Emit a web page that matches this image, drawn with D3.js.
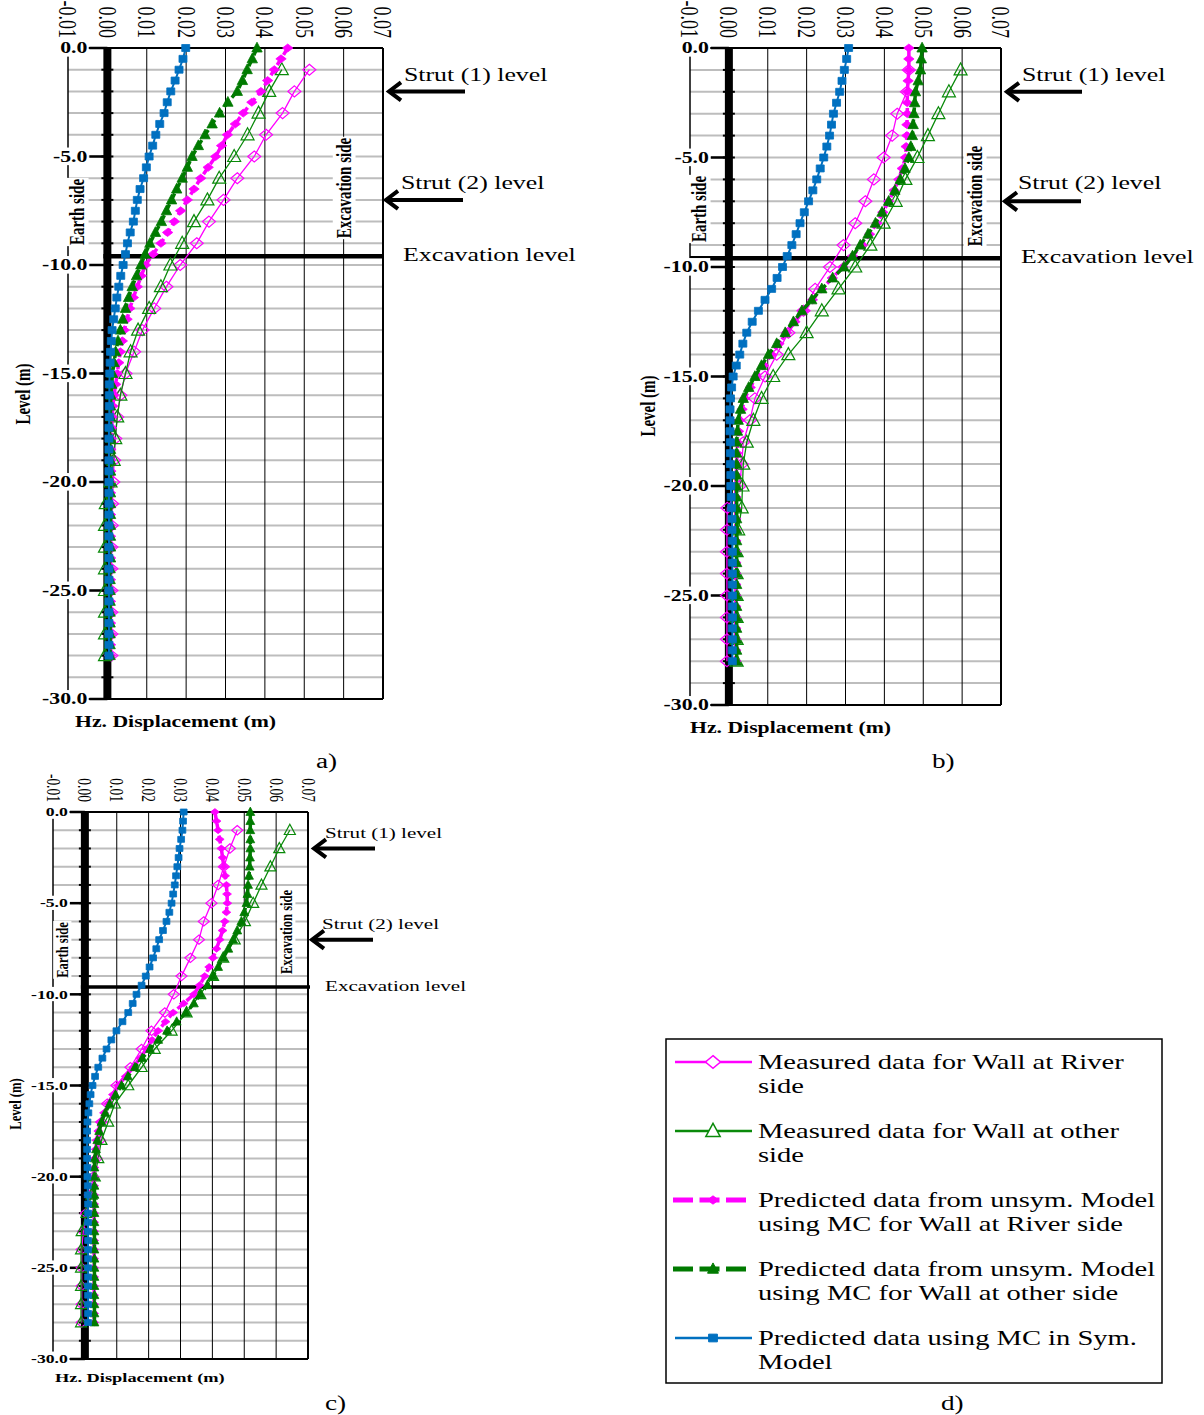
<!DOCTYPE html>
<html>
<head>
<meta charset="utf-8">
<script src="https://cdn.jsdelivr.net/npm/d3@7"></script>
<style>
body { margin: 0; background: #fff; }
svg { display: block; }
</style>
</head>
<body>
<svg id="fig" width="1204" height="1415"></svg>
<script>
// the source figure is stretched sideways, so every text gets this x scale
var SX = 1.36;
var FONT = '"Liberation Serif", "Times New Roman", serif';

var xTicks = [-0.01, 0, 0.01, 0.02, 0.03, 0.04, 0.05, 0.06, 0.07];
var xTickLabels = ["-0.01", "0.00", "0.01", "0.02", "0.03", "0.04", "0.05", "0.06", "0.07"];
var yTicks = [0, -5, -10, -15, -20, -25, -30];
var yTickLabels = ["0.0", "-5.0", "-10.0", "-15.0", "-20.0", "-25.0", "-30.0"];
var strutLevels = [-2, -7];
var excavationLevel = -9.6;

// levels (m) of the predicted series
var predDepth = [0, -0.5, -1, -1.5, -2, -2.5, -3, -3.5,
  -4, -4.5, -5, -5.5, -6, -6.5, -7, -7.5,
  -8, -8.5, -9, -9.5, -10, -10.5, -11, -11.5,
  -12, -12.5, -13, -13.5, -14, -14.5, -15, -15.5,
  -16, -16.5, -17, -17.5, -18, -18.5, -19, -19.5,
  -20, -20.5, -21, -21.5, -22, -22.5, -23, -23.5,
  -24, -24.5, -25, -25.5, -26, -26.5, -27, -27.5,
  -28];
// levels (m) of the measured series
var measDepth = [-1, -2, -3, -4, -5, -6, -7,
  -8, -9, -10, -11, -12, -13, -14,
  -15, -16, -17, -18, -19, -20, -21,
  -22, -23, -24, -25, -26, -27, -28];

// ---- panel a ----
var aMeasRiver = [.0513, .0475, .0445, .0403, .0373, .0330, .0295,
  .0258, .0227, .0185, .0150, .0119, .0089, .0068,
  .0046, .0033, .0025, .0020, .0017, .0015, .0012,
  .0011, .0010, .0010, .0010, .0010, .0010, .0010];
var aMeasOther = [.0443, .0411, .0384, .0356, .0322, .0284, .0254,
  .0220, .0190, .0160, .0136, .0106, .0078, .0059,
  .0046, .0033, .0025, .0020, .0016, .0008, -.0004,
  -.0006, -.0006, -.0006, -.0006, -.0006, -.0006, -.0006];
var aPredRiver = [.0458, .0441, .0424, .0407, .0390, .0367, .0345, .0325,
  .0305, .0290, .0275, .0256, .0237, .0220, .0203, .0186,
  .0170, .0153, .0136, .0116, .0097, .0086, .0076, .0066,
  .0057, .0050, .0043, .0038, .0033, .0029, .0025, .0021,
  .0017, .0014, .0012, .0011, .0010, .0009, .0009, .0009,
  .0008, .0008, .0008, .0008, .0008, .0008, .0008, .0008,
  .0008, .0008, .0008, .0008, .0008, .0008, .0008, .0008,
  .0008];
var aPredOther = [.0380, .0368, .0355, .0343, .0330, .0306, .0285, .0266,
  .0248, .0231, .0215, .0203, .0190, .0176, .0163, .0150,
  .0137, .0122, .0108, .0096, .0085, .0074, .0063, .0054,
  .0046, .0039, .0033, .0027, .0021, .0017, .0013, .0011,
  .0009, .0008, .0008, .0008, .0008, .0008, .0008, .0008,
  .0008, .0008, .0008, .0008, .0008, .0008, .0008, .0008,
  .0007, .0007, .0007, .0007, .0007, .0007, .0007, .0007,
  .0007];
var aPredSym = [.0199, .0192, .0182, .0172, .0161, .0152, .0144, .0133,
  .0123, .0115, .0106, .0099, .0092, .0083, .0076, .0071,
  .0066, .0058, .0051, .0046, .0040, .0034, .0029, .0024,
  .0020, .0016, .0012, .0010, .0008, .0007, .0006, .0005,
  .0005, .0005, .0005, .0004, .0004, .0004, .0004, .0004,
  .0004, .0004, .0004, .0004, .0004, .0004, .0004, .0004,
  .0004, .0004, .0004, .0004, .0004, .0004, .0004, .0004,
  .0004];

// ---- panel b ----
var bMeasRiver = [.0463, .0458, .0433, .0420, .0398, .0373, .0351,
  .0325, .0295, .0260, .0222, .0192, .0153, .0123,
  .0093, .0067, .0054, .0037, .0033, .0028, -.0004,
  -.0005, -.0005, -.0005, -.0005, -.0005, -.0005, -.0005];
var bMeasOther = [.0596, .0566, .0539, .0512, .0485, .0454, .0429,
  .0398, .0364, .0325, .0282, .0239, .0200, .0153,
  .0114, .0084, .0063, .0046, .0037, .0035, .0033,
  .0024, .0020, .0020, .0020, .0020, .0020, .0020];
var bPredRiver = [.0463, .0463, .0463, .0461, .0459, .0459, .0459, .0458,
  .0458, .0456, .0454, .0446, .0437, .0425, .0411, .0396,
  .0381, .0362, .0343, .0318, .0293, .0266, .0239, .0215,
  .0192, .0170, .0149, .0129, .0110, .0090, .0071, .0055,
  .0041, .0034, .0028, .0025, .0022, .0021, .0020, .0019,
  .0018, .0018, .0018, .0018, .0018, .0018, .0018, .0018,
  .0018, .0018, .0018, .0018, .0018, .0018, .0018, .0018,
  .0018];
var bPredOther = [.0497, .0495, .0493, .0487, .0480, .0478, .0476, .0474,
  .0472, .0468, .0463, .0453, .0441, .0427, .0411, .0394,
  .0377, .0358, .0338, .0318, .0296, .0267, .0239, .0213,
  .0188, .0166, .0145, .0123, .0102, .0084, .0067, .0051,
  .0037, .0030, .0024, .0022, .0020, .0020, .0020, .0020,
  .0020, .0020, .0020, .0020, .0020, .0020, .0020, .0020,
  .0020, .0020, .0020, .0020, .0020, .0020, .0020, .0020,
  .0020];
var bPredSym = [.0308, .0303, .0297, .0291, .0285, .0277, .0269, .0264,
  .0259, .0252, .0244, .0235, .0226, .0216, .0205, .0194,
  .0183, .0173, .0162, .0150, .0138, .0124, .0110, .0093,
  .0076, .0060, .0046, .0036, .0028, .0019, .0011, .0007,
  .0004, .0003, .0003, .0003, .0004, .0004, .0004, .0005,
  .0005, .0006, .0007, .0008, .0008, .0009, .0009, .0009,
  .0009, .0009, .0009, .0009, .0009, .0009, .0009, .0009,
  .0009];

// ---- panel c ----
var cMeasRiver = [.0478, .0455, .0436, .0418, .0397, .0373, .0358,
  .0331, .0303, .0279, .0251, .0209, .0178, .0143,
  .0099, .0070, .0052, .0047, .0037, .0026, .0016,
  .0003, -.0005, -.0010, -.0010, -.0010, -.0010, -.0010];
var cMeasOther = [.0643, .0610, .0582, .0554, .0528, .0502, .0470,
  .0434, .0402, .0362, .0319, .0272, .0219, .0178,
  .0136, .0094, .0073, .0052, .0042, .0031, .0021,
  .0005, -.0010, -.0012, -.0012, -.0012, -.0012, -.0012];
var cPredRiver = [.0408, .0413, .0418, .0423, .0428, .0432, .0436, .0440,
  .0444, .0446, .0447, .0444, .0439, .0432, .0423, .0413,
  .0402, .0390, .0376, .0360, .0342, .0310, .0277, .0253,
  .0230, .0211, .0193, .0173, .0152, .0128, .0104, .0088,
  .0073, .0060, .0047, .0042, .0037, .0034, .0031, .0030,
  .0029, .0029, .0029, .0029, .0029, .0029, .0029, .0029,
  .0029, .0029, .0029, .0029, .0029, .0029, .0029, .0029,
  .0029];
var cPredOther = [.0519, .0519, .0519, .0519, .0519, .0518, .0517, .0515,
  .0512, .0510, .0507, .0500, .0491, .0478, .0465, .0450,
  .0434, .0418, .0402, .0384, .0362, .0342, .0318, .0288,
  .0258, .0230, .0204, .0180, .0157, .0135, .0115, .0096,
  .0078, .0064, .0052, .0045, .0039, .0035, .0031, .0030,
  .0030, .0030, .0030, .0030, .0030, .0030, .0030, .0030,
  .0030, .0030, .0030, .0030, .0030, .0030, .0030, .0030,
  .0030];
var cPredSym = [.0310, .0308, .0306, .0302, .0297, .0294, .0290, .0286,
  .0282, .0277, .0272, .0265, .0256, .0245, .0233, .0224,
  .0214, .0203, .0191, .0178, .0162, .0150, .0136, .0118,
  .0099, .0083, .0068, .0055, .0042, .0032, .0024, .0018,
  .0014, .0011, .0008, .0007, .0007, .0007, .0007, .0008,
  .0008, .0009, .0009, .0010, .0010, .0010, .0010, .0010,
  .0010, .0010, .0010, .0010, .0010, .0010, .0010, .0010,
  .0010];

var legendLabels = [
  ["Measured data for Wall at River", "side"],
  ["Measured data for Wall at other", "side"],
  ["Predicted data from unsym. Model", "using MC for Wall at River side"],
  ["Predicted data from unsym. Model", "using MC for Wall at other side"],
  ["Predicted data using MC in Sym.", "Model"]
];

var MAGENTA = "#ff00ff", GREEN = "#0a8a0a", DGREEN = "#007a00", BLUE = "#0070c0";

// marker shapes, s = size factor
function markerPath(type, s) {
  if (type == "diamondOpen") return "M0," + (-5.5 * s) + "L" + (6.5 * s) + ",0L0," + (5.5 * s) + "L" + (-6.5 * s) + ",0Z";
  if (type == "triOpen") return "M0," + (-7 * s) + "L" + (6.5 * s) + "," + (5 * s) + "L" + (-6.5 * s) + "," + (5 * s) + "Z";
  if (type == "diamond") return "M0," + (-4 * s) + "L" + (5.2 * s) + ",0L0," + (4 * s) + "L" + (-5.2 * s) + ",0Z";
  if (type == "tri") return "M0," + (-5.8 * s) + "L" + (5.2 * s) + "," + (4 * s) + "L" + (-5.2 * s) + "," + (4 * s) + "Z";
  return "M" + (-4 * s) + "," + (-3.5 * s) + "h" + (8 * s) + "v" + (7 * s) + "h" + (-8 * s) + "Z";
}

var seriesStyle = [
  { color: MAGENTA, width: 1.3, dash: null, marker: "diamondOpen", open: true },
  { color: GREEN, width: 1.3, dash: null, marker: "triOpen", open: true },
  { color: MAGENTA, width: 3.5, dash: "8,4", marker: "diamond", open: false },
  { color: DGREEN, width: 3.5, dash: "8,4", marker: "tri", open: false },
  { color: BLUE, width: 2, dash: null, marker: "square", open: false }
];

var svg = d3.select("#fig");

function label(parent, x, y, str, o) {
  var t = parent.append("g")
    .attr("transform", "translate(" + x + "," + y + ") scale(" + SX + ",1)" + (o.rot ? " rotate(" + o.rot + ")" : ""));
  var txt = t.append("text")
    .attr("font-family", FONT)
    .attr("font-size", o.size)
    .attr("font-weight", o.bold ? "bold" : "normal")
    .attr("text-anchor", o.anchor || "start")
    .attr("dy", o.dy || 0)
    .attr("fill", "#000")
    .text(str);
  if (o.bg) {
    var b = txt.node().getBBox();
    t.insert("rect", "text").attr("x", b.x - 1).attr("y", b.y).attr("width", b.width + 2).attr("height", b.height).attr("fill", "#fff");
  }
  return t;
}

function arrow(parent, x1, x2, yy) {
  parent.append("line").attr("x1", x1 + 2).attr("x2", x2).attr("y1", yy).attr("y2", yy)
    .attr("stroke", "#000").attr("stroke-width", 4);
  parent.append("path")
    .attr("d", "M" + (x1 + 13) + "," + (yy - 9) + "L" + (x1 + 1) + "," + yy + "L" + (x1 + 13) + "," + (yy + 9))
    .attr("fill", "none").attr("stroke", "#000").attr("stroke-width", 4).attr("stroke-linejoin", "miter");
}

function drawPanel(p) {
  var g = svg.append("g");
  var x = d3.scaleLinear().domain([-0.01, 0.07]).range([p.left, p.right]);
  var y = d3.scaleLinear().domain([0, -30]).range([p.top, p.bottom]);

  // grey level grid, every metre
  g.selectAll("line.hg").data(d3.range(-1, -30, -1)).enter().append("line")
    .attr("x1", p.left).attr("x2", p.right)
    .attr("y1", function (d) { return y(d); }).attr("y2", function (d) { return y(d); })
    .attr("stroke", "#bdbdbd").attr("stroke-width", 2);
  // vertical grid
  g.selectAll("line.vg").data(xTicks.slice(2, 8)).enter().append("line")
    .attr("x1", function (d) { return x(d); }).attr("x2", function (d) { return x(d); })
    .attr("y1", p.top).attr("y2", p.bottom)
    .attr("stroke", "#000").attr("stroke-width", 1);
  // frame
  g.append("line").attr("x1", p.left).attr("x2", p.right).attr("y1", p.top).attr("y2", p.top).attr("stroke", "#000").attr("stroke-width", 2);
  g.append("line").attr("x1", p.left).attr("x2", p.right).attr("y1", p.bottom).attr("y2", p.bottom).attr("stroke", "#000").attr("stroke-width", 2);
  g.append("line").attr("x1", p.right).attr("x2", p.right).attr("y1", p.top).attr("y2", p.bottom).attr("stroke", "#000").attr("stroke-width", 2);
  g.append("line").attr("x1", p.left).attr("x2", p.left).attr("y1", p.top).attr("y2", p.bottom).attr("stroke", "#000").attr("stroke-width", 1.5);

  // top tick labels
  xTicks.forEach(function (t, i) {
    label(g, x(t), p.top - 10, xTickLabels[i], { size: p.xFont, rot: 90, anchor: "end", dy: "0.35em" });
  });

  // excavation level line
  g.append("line").attr("x1", p.excFrom === "wall" ? x(0) - 4 : p.left).attr("x2", p.excTo)
    .attr("y1", y(excavationLevel)).attr("y2", y(excavationLevel))
    .attr("stroke", "#000").attr("stroke-width", p.excWidth);

  // wall (vertical axis at zero) with ticks
  var x0 = x(0);
  g.selectAll("line.mt").data(d3.range(0, -31, -1)).enter().append("line")
    .attr("x1", x0 - 6).attr("x2", x0 + 6)
    .attr("y1", function (d) { return y(d); }).attr("y2", function (d) { return y(d); })
    .attr("stroke", "#000").attr("stroke-width", 2);
  g.selectAll("line.jt").data(yTicks).enter().append("line")
    .attr("x1", x0 - p.labGap + 2).attr("x2", x0)
    .attr("y1", function (d) { return y(d); }).attr("y2", function (d) { return y(d); })
    .attr("stroke", "#000").attr("stroke-width", 2.5);
  g.append("line").attr("x1", x0).attr("x2", x0).attr("y1", p.top).attr("y2", p.bottom)
    .attr("stroke", "#000").attr("stroke-width", 8);
  yTicks.forEach(function (t, i) {
    label(g, x0 - p.labGap, y(t), yTickLabels[i], { size: p.yFont, bold: true, anchor: "end", dy: "0.33em", bg: true });
  });

  // side labels
  label(g, p.earth[0], p.earth[1], "Earth side", { size: p.sideFont, bold: true, rot: -90, anchor: "middle", bg: true });
  label(g, p.exc[0], p.exc[1], "Excavation side", { size: p.sideFont, bold: true, rot: -90, anchor: "middle", bg: true });
  label(g, p.level[0], p.level[1], "Level (m)", { size: p.sideFont, bold: true, rot: -90, anchor: "middle" });
  label(g, p.hz[0], p.hz[1], "Hz. Displacement (m)", { size: p.hzFont, bold: true });

  // series
  var sets = [
    { depth: measDepth, vals: p.data[0] },
    { depth: measDepth, vals: p.data[1] },
    { depth: predDepth, vals: p.data[2] },
    { depth: predDepth, vals: p.data[3] },
    { depth: predDepth, vals: p.data[4] }
  ];
  var line = d3.line().x(function (d) { return x(d.v); }).y(function (d) { return y(d.z); });
  sets.forEach(function (s, i) {
    var st = seriesStyle[i];
    var pts = s.vals.map(function (v, j) { return { v: v, z: s.depth[j] }; });
    g.append("path").datum(pts).attr("d", line)
      .attr("fill", "none").attr("stroke", st.color).attr("stroke-width", st.width)
      .attr("stroke-dasharray", st.dash);
    g.selectAll(null).data(pts).enter().append("path")
      .attr("transform", function (d) { return "translate(" + x(d.v) + "," + y(d.z) + ")"; })
      .attr("d", markerPath(st.marker, p.k))
      .attr("fill", st.open ? "none" : st.color)
      .attr("stroke", st.color).attr("stroke-width", st.open ? 1.2 : 0.8);
  });

  // strut annotations
  strutLevels.forEach(function (lv, i) {
    arrow(g, p.arrows[i][0], p.arrows[i][1], y(lv));
    label(g, p.strutText[i][0], p.strutText[i][1], "Strut (" + (i + 1) + ") level", { size: p.noteFont });
  });
  label(g, p.excText[0], p.excText[1], "Excavation level", { size: p.noteFont });
  label(g, p.caption[0], p.caption[1], p.name, { size: 20 });
}

drawPanel({
  name: "a)", left: 68, right: 383, top: 48, bottom: 699, k: 1,
  xFont: 18, yFont: 16, labGap: 20, sideFont: 15, hzFont: 16, noteFont: 19,
  excFrom: "wall", excTo: 383, excWidth: 4.5,
  earth: [84, 212], exc: [351, 188], level: [30, 394], hz: [75, 727],
  arrows: [[388, 465], [385, 463]], strutText: [[404, 81], [401, 189]], excText: [403, 261],
  caption: [316, 768],
  data: [aMeasRiver, aMeasOther, aPredRiver, aPredOther, aPredSym]
});
drawPanel({
  name: "b)", left: 690, right: 1001, top: 48, bottom: 705, k: 1,
  xFont: 18, yFont: 16, labGap: 20, sideFont: 15, hzFont: 16, noteFont: 19,
  excFrom: "left", excTo: 1001, excWidth: 4.5,
  earth: [706, 209], exc: [982, 196], level: [655, 406], hz: [690, 733],
  arrows: [[1006, 1082], [1004, 1081]], strutText: [[1022, 81], [1018, 189]], excText: [1021, 263],
  caption: [932, 768],
  data: [bMeasRiver, bMeasOther, bPredRiver, bPredOther, bPredSym]
});
drawPanel({
  name: "c)", left: 53, right: 308, top: 812, bottom: 1359, k: 0.85,
  xFont: 13.5, yFont: 13, labGap: 17, sideFont: 12.6, hzFont: 13.5, noteFont: 15.5,
  excFrom: "wall", excTo: 310, excWidth: 3.5,
  earth: [68, 950], exc: [292, 932], level: [21, 1104], hz: [55, 1382],
  arrows: [[313, 375], [311, 373]], strutText: [[325, 838], [322, 929]], excText: [325, 991],
  caption: [325, 1410],
  data: [cMeasRiver, cMeasOther, cPredRiver, cPredOther, cPredSym]
});

// ---- legend (panel d) ----
var lg = svg.append("g");
lg.append("rect").attr("x", 666).attr("y", 1039).attr("width", 496).attr("height", 344)
  .attr("fill", "#fff").attr("stroke", "#000").attr("stroke-width", 1.5);
var legMarkers = ["diamondOpen", "triOpen", "diamond", "tri", "square"];
var legScale = [1.15, 1.1, 1.05, 1.05, 1.1];
legendLabels.forEach(function (lab, i) {
  var st = seriesStyle[i];
  var ly = 1062 + i * 69;
  var dashed = st.dash != null;
  lg.append("line").attr("x1", dashed ? 673 : 675).attr("x2", dashed ? 747 : 752).attr("y1", ly).attr("y2", ly)
    .attr("stroke", st.color).attr("stroke-width", dashed ? 5 : 2.5)
    .attr("stroke-dasharray", dashed ? "20,6.5" : null);
  lg.append("path").attr("transform", "translate(713," + ly + ")")
    .attr("d", markerPath(legMarkers[i], legScale[i]))
    .attr("fill", st.open ? "#fff" : st.color).attr("stroke", st.color).attr("stroke-width", st.open ? 1.5 : 1);
  label(lg, 758, ly + 7, lab[0], { size: 21 });
  label(lg, 758, ly + 31, lab[1], { size: 21 });
});
label(svg, 941, 1410, "d)", { size: 20 });
</script>
</body>
</html>
